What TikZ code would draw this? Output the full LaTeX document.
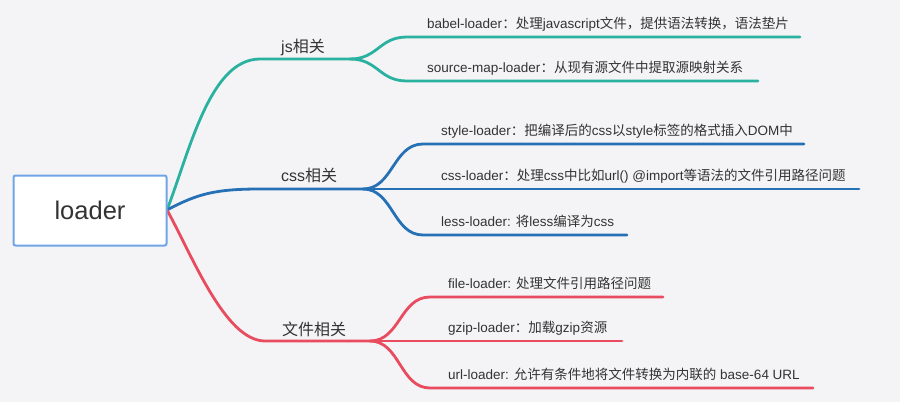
\documentclass[tikz,border=0pt]{standalone}
\usepackage{fontspec}
\setmainfont{Liberation Sans}
\newfontfamily\cjk{Noto Sans CJK SC}
\newcommand\zh[1]{{\cjk #1}}
\definecolor{bgc}{HTML}{F4F4F6}
\definecolor{jsc}{HTML}{2AB19F}
\definecolor{cssc}{HTML}{2670B6}
\definecolor{filec}{HTML}{E84C5E}
\definecolor{rootb}{HTML}{6FA5E6}
\definecolor{txt}{HTML}{333333}
\tikzset{
  rootbox/.style={draw=rootb, line width=2pt, fill=white, rounded corners=2pt,
    minimum width=153pt, minimum height=70pt, inner sep=0pt,
    font=\fontsize{25.5}{28}\selectfont, text=txt},
  branch/.style={anchor=base west, inner sep=0pt, font=\fontsize{16}{18}\selectfont, text=txt},
  leaf/.style={anchor=base west, inner sep=0pt, font=\fontsize{13.5}{15}\selectfont, text=txt},
  jsline/.style={draw=jsc, line width=2.8pt, line cap=round},
  cssline/.style={draw=cssc, line width=2.8pt, line cap=round},
  fileline/.style={draw=filec, line width=2.8pt, line cap=round},
}
\begin{document}
\begin{tikzpicture}[x=1pt,y=-1pt]
\fill[bgc] (0,0) rectangle (900,402);
\useasboundingbox (0,0) rectangle (900,402);

% coordinates
\coordinate (r) at (167,210);
\coordinate (jsA) at (260,59);
\coordinate (jsF) at (350,59);
\coordinate (b1) at (407,37);
\coordinate (b1e) at (800,37);
\coordinate (s1) at (407,81);
\coordinate (s1e) at (758,81);
\coordinate (cssA) at (260,189);
\coordinate (cssF) at (363,189);
\coordinate (st) at (423,144);
\coordinate (ste) at (804,144);
\coordinate (cle) at (859,189);
\coordinate (ls) at (423,235);
\coordinate (lse) at (627,235);
\coordinate (fA) at (265,341);
\coordinate (fF) at (370,341);
\coordinate (fl) at (430,297);
\coordinate (fle) at (663,297);
\coordinate (gze) at (622,341);
\coordinate (ul) at (430,388);
\coordinate (ule) at (813,388);

% connectors
\draw[jsline] (r) .. controls +(23,-60) and +(-50,0) .. (jsA) -- (jsF);
\draw[jsline] (jsF) .. controls +(28,0) and +(-28,0) .. (b1) -- (b1e);
\draw[jsline] (jsF) .. controls +(28,0) and +(-28,0) .. (s1) -- (s1e);

\draw[cssline] (r) .. controls +(30,-16) and +(-45,0) .. (cssA) -- (cssF);
\draw[cssline] (cssF) .. controls +(30,0) and +(-30,0) .. (st) -- (ste);
\draw[cssline] (cssF) -- (cle);
\draw[cssline] (cssF) .. controls +(30,0) and +(-30,0) .. (ls) -- (lse);

\draw[fileline] (r) .. controls +(25,45) and +(-40,0) .. (fA) -- (fF);
\draw[fileline] (fF) .. controls +(30,0) and +(-30,0) .. (fl) -- (fle);
\draw[fileline] (fF) -- (gze);
\draw[fileline] (fF) .. controls +(30,0) and +(-30,0) .. (ul) -- (ule);

% root
\node[rootbox] (root) at (90,210.5) {loader};

% branch labels
\node[branch] (js) at (281,52) {js\zh{相关}};
\node[branch] (css) at (281,181) {css\zh{相关}};
\node[branch] (file) at (282,335) {\zh{文件相关}};

% leaves
\node[leaf] (babel) at (427,28) {babel-loader\zh{：处理}javascript\zh{文件，提供语法转换，语法垫片}};
\node[leaf] (source) at (427,72) {source-map-loader\zh{：从现有源文件中提取源映射关系}};
\node[leaf] (style) at (441,135) {style-loader\zh{：把编译后的}css\zh{以}style\zh{标签的格式插入}DOM\zh{中}};
\node[leaf] (cssl) at (441,180) {css-loader\zh{：处理}css\zh{中比如}url() @import\zh{等语法的文件引用路径问题}};
\node[leaf] (less) at (441,226) {less-loader: \zh{将}less\zh{编译为}css};
\node[leaf] (filel) at (448,288) {file-loader: \zh{处理文件引用路径问题}};
\node[leaf] (gzip) at (448,332) {gzip-loader\zh{：加载}gzip\zh{资源}};
\node[leaf] (url) at (448,379) {url-loader: \zh{允许有条件地将文件转换为内联的} base-64 URL};
\end{tikzpicture}
\end{document}
